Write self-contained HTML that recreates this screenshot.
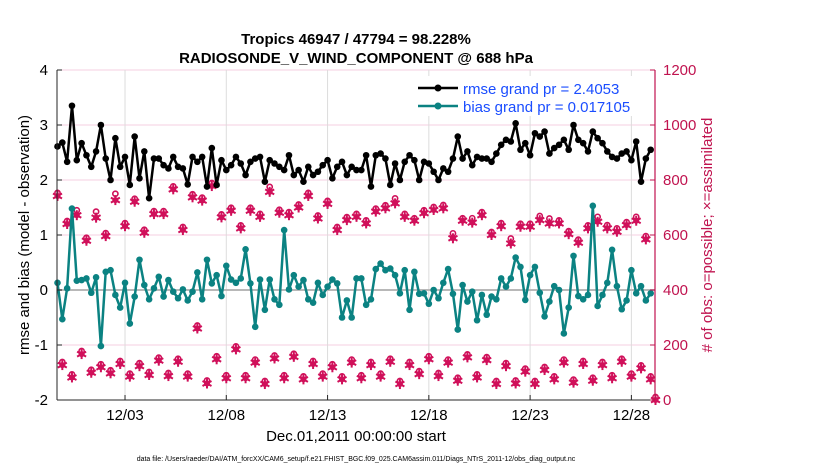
<!DOCTYPE html>
<html><head><meta charset="utf-8"><style>
body{margin:0;background:#fff;font-family:"Liberation Sans",sans-serif}
svg text{font-family:"Liberation Sans",sans-serif}
</style></head><body>
<svg id="chart" width="830" height="470" xmlns="http://www.w3.org/2000/svg">
<rect width="830" height="470" fill="#fff"/>
<text x="356" y="44" text-anchor="middle" font-size="15" font-weight="bold">Tropics 46947 / 47794 = 98.228%</text>
<text x="356" y="63" text-anchor="middle" font-size="15" font-weight="bold">RADIOSONDE_V_WIND_COMPONENT @ 688 hPa</text>
<g id="grid"></g>
<g id="marks"></g>
<g id="axes"></g>
<text transform="translate(29,235) rotate(-90)" text-anchor="middle" font-size="15">rmse and bias (model - observation)</text>
<text transform="translate(712,235) rotate(-90)" text-anchor="middle" font-size="15" fill="#c0134f"># of obs: o=possible; ×=assimilated</text>
<text x="356" y="441" text-anchor="middle" font-size="15">Dec.01,2011 00:00:00 start</text>
<text x="356" y="461" text-anchor="middle" font-size="7">data file: /Users/raeder/DAI/ATM_forcXX/CAM6_setup/f.e21.FHIST_BGC.f09_025.CAM6assim.011/Diags_NTrS_2011-12/obs_diag_output.nc</text>
<g>
<rect x="410" y="76" width="242" height="40" fill="#fff"/>
<line x1="418" y1="88" x2="458" y2="88" stroke="#000" stroke-width="2.5"/>
<circle cx="438" cy="88" r="3.5" fill="#000"/>
<text x="463" y="94" font-size="15" fill="#1a4dff">rmse grand pr = 2.4053</text>
<line x1="418" y1="106" x2="458" y2="106" stroke="#0b8282" stroke-width="2.5"/>
<circle cx="438" cy="106" r="3.5" fill="#0b8282"/>
<text x="463" y="112" font-size="15" fill="#1a4dff">bias grand pr = 0.017105</text>
</g>
</svg>
<script>
const rmse=[2.61,2.68,2.33,3.35,2.36,2.67,2.45,2.24,2.52,3.0,2.39,2.0,2.76,2.24,2.42,1.91,2.79,2.03,2.52,1.67,2.39,2.39,2.27,2.21,2.42,2.24,2.21,1.92,2.42,2.33,2.42,1.88,
2.58,1.91,2.36,2.18,2.27,2.42,2.30,2.09,2.33,2.39,2.42,1.97,2.36,2.30,2.24,2.18,2.45,2.09,2.18,1.97,2.24,2.09,2.15,2.27,2.36,2.03,2.24,2.33,2.09,2.24,2.18,
2.18,2.45,1.88,2.45,2.48,2.39,1.91,2.30,2.0,2.33,2.45,2.36,2.0,2.33,2.30,2.15,2.0,2.21,2.15,2.39,2.79,2.39,2.52,2.27,2.42,2.39,2.39,2.33,2.48,2.64,2.73,
2.70,3.03,2.55,2.67,2.45,2.85,2.79,2.88,2.48,2.58,2.64,2.73,2.55,3.0,2.73,2.67,2.52,2.88,2.76,2.67,2.52,2.42,2.39,2.48,2.52,2.36,2.70,1.97,2.39,2.55,null];
const bias=[0.13,-0.53,0.03,1.48,0.17,0.18,0.21,-0.05,0.23,-1.02,0.33,0.36,-0.09,-0.32,0.13,-0.61,-0.12,0.55,0.09,-0.17,0.03,0.24,-0.12,0.18,-0.03,-0.15,0.01,-0.19,-0.03,0.32,-0.17,0.55,
0.12,0.27,-0.11,0.44,0.19,0.13,0.21,0.74,0.12,-0.67,0.19,-0.36,0.19,-0.17,-0.27,1.09,0.01,0.27,0.06,0.18,-0.17,-0.23,0.13,-0.09,0.06,0.19,0.12,-0.50,-0.19,-0.50,0.21,
0.21,-0.27,-0.17,0.38,0.48,0.36,0.39,0.27,-0.06,0.36,-0.36,0.33,-0.07,-0.06,-0.25,0,-0.15,0.13,0.38,-0.07,-0.72,0.09,-0.21,-0.03,-0.55,-0.09,-0.45,-0.12,-0.17,0.21,0.06,
0.21,0.59,0.42,-0.18,0.27,0.42,-0.05,-0.48,-0.21,0.07,0,-0.79,-0.32,0.62,-0.11,-0.17,-0.09,1.53,-0.29,-0.09,0.13,0.73,0.07,-0.35,-0.19,0.36,-0.06,0.07,-0.19,-0.06,null];
const nAssim=[742,127,640,82,672,167,579,99,663,119,596,97,727,131,632,85,721,123,608,91,676,143,676,87,766,139,618,85,737,260,725,60,
778,148,664,79,688,184,624,79,688,136,666,58,757,151,681,79,672,157,700,75,742,131,660,85,713,119,618,75,654,136,666,
79,642,127,685,85,697,139,715,58,666,127,652,94,679,148,691,87,697,136,588,70,652,155,645,82,672,145,600,58,632,123,
569,60,630,103,630,58,654,109,642,75,642,136,603,63,572,131,624,70,648,127,624,79,612,139,636,85,652,115,584,75,0];
const nPoss=[742,127,640,82,690,167,579,99,685,119,596,97,750,131,632,85,721,123,608,91,676,143,676,87,766,139,618,85,737,260,725,60,
778,148,664,79,688,184,624,79,688,136,666,58,775,151,681,79,672,157,700,75,742,131,660,85,713,119,618,75,654,136,666,
79,642,127,685,85,697,139,733,58,666,127,661,94,679,148,691,87,709,136,606,70,661,155,661,82,672,145,600,58,632,123,
587,60,630,103,630,58,669,109,660,75,642,136,603,63,572,131,624,70,666,127,636,79,624,139,636,85,666,115,596,75,0];
const xTickIdx=[14,35,56,77,98,119];
const xTickLabels=["12/03","12/08","12/13","12/18","12/23","12/28"];
const yLeftTicks=[-2,-1,0,1,2,3,4];
const yRightTicks=[0,200,400,600,800,1000,1200];

const NS="http://www.w3.org/2000/svg";
const L=57,R=655,T=70,B=400;
const x=i=>L+0.5+i*(R-L)/124;
const yl=v=>B-(v+2)/6*(B-T);
const yr=v=>B-v/1200*(B-T);
function mk(tag,attrs,parent){const e=document.createElementNS(NS,tag);for(const k in attrs)e.setAttribute(k,attrs[k]);parent.appendChild(e);return e;}
const grid=document.getElementById('grid'),marks=document.getElementById('marks'),axes=document.getElementById('axes');
yLeftTicks.forEach(v=>{const g=mk('line',{x1:L,x2:R,y1:yl(v),y2:yl(v),stroke:'#f6cfe0','stroke-width':1},grid);

});
xTickIdx.forEach(i=>{const g=mk('line',{x1:x(i),x2:x(i),y1:T,y2:B,stroke:'#dcdcdc','stroke-width':1},grid);

});
const z=mk('line',{x1:L,x2:R,y1:yl(0),y2:yl(0),stroke:'#b8b8b8','stroke-width':2},grid);


// obs count markers
const pink='#d0105a';
nPoss.forEach((v,i)=>{const c=mk('circle',{cx:x(i),cy:yr(v)-(v>nAssim[i]?0:3),r:2.6,fill:'#fff',stroke:pink,'stroke-width':1.6},marks);

});
nAssim.forEach((v,i)=>{const cx=x(i),cy=yr(v);const g=mk('g',{},marks);


mk('circle',{cx:cx,cy:cy,r:3,fill:pink},g);
[[0,-5,0,5],[-4.5,-2.5,4.5,2.5],[-4.5,2.5,4.5,-2.5]].forEach(s=>mk('line',{x1:cx+s[0],y1:cy+s[1],x2:cx+s[2],y2:cy+s[3],stroke:pink,'stroke-width':2},g));});
function series(arr,color,name){let d='';arr.forEach((v,i)=>{if(v===null)return;d+=(d?'L':'M')+x(i).toFixed(1)+','+yl(v).toFixed(1);});
const p=mk('path',{d:d,fill:'none',stroke:color,'stroke-width':2.5,'stroke-linejoin':'round'},marks);


arr.forEach((v,i)=>{if(v===null)return;const c=mk('circle',{cx:x(i),cy:yl(v),r:3.3,fill:color},marks);

});}
series(bias,'#0b8282','bias');
series(rmse,'#000','rmse');
// axes
const la=mk('line',{x1:L,x2:L,y1:T,y2:B,stroke:'#262626','stroke-width':1},axes);


const ra=mk('line',{x1:R,x2:R,y1:T,y2:B,stroke:'#c0134f','stroke-width':1.2},axes);


const ba=mk('line',{x1:L,x2:R,y1:B,y2:B,stroke:'#262626','stroke-width':1},axes);


yLeftTicks.forEach(v=>{mk('line',{x1:L,x2:L+5,y1:yl(v),y2:yl(v),stroke:'#262626'},axes);
const t=mk('text',{x:L-9,y:yl(v)+5,'text-anchor':'end','font-size':15},axes);t.textContent=v;

});
yRightTicks.forEach(v=>{mk('line',{x1:R-5,x2:R,y1:yr(v),y2:yr(v),stroke:'#c0134f'},axes);
const t=mk('text',{x:R+8,y:yr(v)+5,'font-size':15,fill:'#c0134f'},axes);t.textContent=v;

});
xTickIdx.forEach((i,k)=>{mk('line',{x1:x(i),x2:x(i),y1:B-5,y2:B,stroke:'#262626'},axes);
const t=mk('text',{x:x(i),y:B+20,'text-anchor':'middle','font-size':15},axes);t.textContent=xTickLabels[k];

});
</script>
</body></html>
